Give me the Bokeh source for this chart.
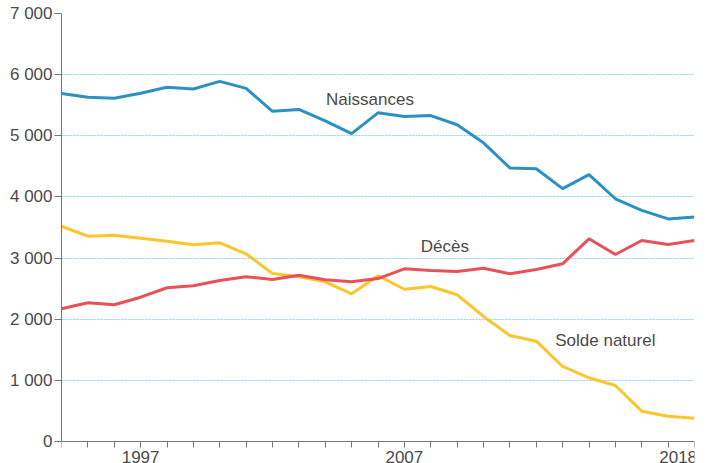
from bokeh.plotting import figure
from bokeh.models import FixedTicker, Range1d
from bokeh.core.properties import value
from bokeh.embed import file_html
from bokeh.resources import INLINE

years = list(range(1994, 2019))
naissances = [5690, 5630, 5615, 5695, 5795, 5765, 5890, 5775, 5400, 5430,
              5245, 5035, 5375, 5315, 5330, 5180, 4885, 4475, 4460, 4135,
              4365, 3970, 3780, 3640, 3670]
deces = [2170, 2268, 2236, 2360, 2514, 2547, 2633, 2694, 2650, 2720,
         2645, 2612, 2665, 2824, 2797, 2780, 2835, 2743, 2813, 2906,
         3315, 3058, 3287, 3222, 3287]
solde = [3520, 3358, 3374, 3325, 3276, 3217, 3250, 3070, 2748, 2694,
         2612, 2416, 2712, 2490, 2535, 2400, 2045, 1734, 1641, 1227,
         1042, 916, 496, 414, 381]

y_ticks = [0, 1000, 2000, 3000, 4000, 5000, 6000, 7000]
y_tick_labels = ["0", "1 000", "2 000", "3 000", "4 000", "5 000", "6 000", "7 000"]
x_label_years = [1997, 2007, 2018]

series_names = ["Naissances", "Décès", "Solde naturel"]
series_label_x = [2004.03, 2007.62, 2012.72]
series_label_y = [5600, 3190, 1650]

FONT = "Liberation Sans"
TXT = "#4a4a4a"
AX = "#777777"

# frame runs to the bottom of the canvas; the x axis sits at y = 0 and the
# space below it (22 px) holds the tick labels
Y_MAX = 7000
PAD_BELOW = Y_MAX * 22 / 428

p = figure(width=706, height=463, output_backend="svg", toolbar_location=None,
           x_range=Range1d(1994, 2018), y_range=Range1d(-PAD_BELOW, Y_MAX),
           min_border_left=61, min_border_right=12, min_border_top=13,
           min_border_bottom=0)
p.outline_line_color = None
p.background_fill_color = "white"
p.border_fill_color = "white"

p.xgrid.grid_line_color = None
p.ygrid.ticker = FixedTicker(ticks=y_ticks)
p.ygrid.grid_line_color = "#8fd4ec"
p.ygrid.grid_line_dash = "2 1"
p.ygrid.grid_line_width = 1

# y axis
p.yaxis.ticker = FixedTicker(ticks=y_ticks)
p.yaxis.bounds = (0, Y_MAX)
p.yaxis.major_label_overrides = {t: l for t, l in zip(y_ticks, y_tick_labels)}
p.yaxis.axis_line_color = AX
p.yaxis.major_tick_line_color = AX
p.yaxis.major_tick_in = 0
p.yaxis.major_tick_out = 7
p.yaxis.minor_tick_line_color = None
p.yaxis.major_label_standoff = 2
p.yaxis.major_label_text_font = FONT
p.yaxis.major_label_text_font_size = "17px"
p.yaxis.major_label_text_color = TXT

# x axis: a tick every year, labels on three of them
NBSP = "\u00a0"
x_overrides = {y: "" for y in years}
for yr in x_label_years:
    x_overrides[yr] = str(yr) + (NBSP * 2 if yr == years[-1] else "")
p.xaxis.fixed_location = 0
p.xaxis.ticker = FixedTicker(ticks=years)
p.xaxis.major_label_overrides = x_overrides
p.xaxis.major_label_text_font = FONT
p.xaxis.major_label_text_font_size = "17px"
p.xaxis.major_label_text_color = TXT
p.xaxis.major_label_standoff = 0
p.xaxis.axis_line_color = AX
p.xaxis.major_tick_line_color = AX
p.xaxis.major_tick_in = 0
p.xaxis.major_tick_out = 6
p.xaxis.minor_tick_line_color = None

p.line(years, naissances, line_color="#2a91c4", line_width=3)
p.line(years, solde, line_color="#fbc62b", line_width=3)
p.line(years, deces, line_color="#e8515a", line_width=3)

p.text(x=series_label_x, y=series_label_y, text=series_names,
       text_font=value(FONT), text_font_size="17px", text_color=TXT,
       text_baseline="middle", text_align="left")

open("out.html", "w").write(file_html(p, INLINE))
